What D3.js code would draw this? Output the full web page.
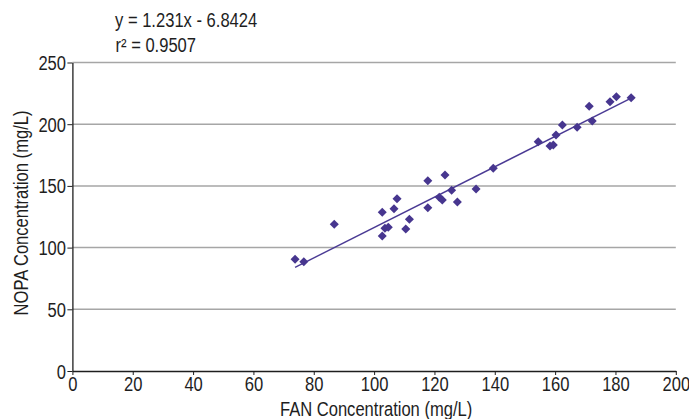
<!DOCTYPE html>
<html>
<head>
<meta charset="utf-8">
<script src="https://cdn.jsdelivr.net/npm/d3@7"></script>
<style>
  body { margin: 0; background: #fff; }
  text { font-family: "Liberation Sans", Arial, sans-serif; }
</style>
</head>
<body>
<div id="chart"></div>
<script>
// Data
const fan = [73.8, 76.7, 86.8, 102.7, 102.7, 103.6, 104.7, 106.6, 107.6, 110.5,
  111.7, 117.8, 117.8, 121.6, 122.6, 123.5, 125.7, 127.6, 133.8, 139.5,
  154.4, 158.3, 159.4, 160.3, 162.4, 167.3, 171.3, 172.3, 178.2, 180.3, 185.2];
const nopa = [90.5, 88.6, 118.9, 128.6, 109.4, 115.6, 116.5, 131.5, 139.6, 115.1,
  122.9, 154.2, 132.3, 140.8, 138.6, 158.8, 146.4, 137, 147.5, 164.3,
  185.8, 182.3, 183.1, 191.2, 199.4, 197.5, 214.5, 202.6, 218.2, 222.3, 221.5];
const xTicks = [0, 20, 40, 60, 80, 100, 120, 140, 160, 180, 200];
const yTicks = [0, 50, 100, 150, 200, 250];
const slope = 1.231;
const intercept = -6.8424;

const drawChart = () => {
  const margin = {top: 62.5, right: 13.2, bottom: 48, left: 72.4};
  const width = 689;
  const height = 419;
  const innerWidth = width - margin.left - margin.right;
  const innerHeight = height - margin.top - margin.bottom;
  const squeeze = "scale(0.85, 1)"; // original font is a condensed sans
  const fontSize = "19.5px";
  const ink = "#1e1e1e";

  const svg = d3.select("#chart")
    .append("svg")
      .attr("width", width)
      .attr("height", height);

  const innerChart = svg
    .append("g")
      .attr("transform", `translate(${margin.left}, ${margin.top})`);

  const xScale = d3.scaleLinear()
    .domain([0, 200])
    .range([0, innerWidth]);
  const yScale = d3.scaleLinear()
    .domain([0, 250])
    .range([innerHeight, 0]);

  // gridlines
  innerChart
    .selectAll(".grid")
      .data(yTicks.filter(d => d > 0))
      .join("line")
        .attr("class", "grid")
        .attr("x1", 0)
        .attr("x2", innerWidth)
        .attr("y1", d => yScale(d))
        .attr("y2", d => yScale(d))
        .attr("stroke", "#a6a6a6")
        .attr("stroke-width", 1.5);

  const bottomAxis = d3.axisBottom(xScale)
    .tickValues(xTicks)
    .tickSize(4)
    .tickSizeOuter(0);
  const xAxis = innerChart
    .append("g")
      .attr("transform", `translate(0, ${innerHeight})`)
      .call(bottomAxis);

  const leftAxis = d3.axisLeft(yScale)
    .tickValues(yTicks)
    .tickSize(5)
    .tickSizeOuter(0);
  const yAxis = innerChart
    .append("g")
      .call(leftAxis);

  [xAxis, yAxis].forEach(a => {
    a.select(".domain").attr("stroke", ink).attr("stroke-width", 1.3);
    a.selectAll(".tick line").attr("stroke", ink);
    a.selectAll(".tick text")
      .style("font-size", fontSize)
      .attr("fill", ink)
      .attr("transform", squeeze);
  });
  xAxis.selectAll(".tick text").attr("y", 6.5);
  yAxis.selectAll(".tick text").attr("x", -7.5).attr("dy", "0.36em");

  // trendline
  const xExt = d3.extent(fan);
  innerChart
    .append("line")
      .attr("x1", xScale(xExt[0]))
      .attr("y1", yScale(slope * xExt[0] + intercept))
      .attr("x2", xScale(xExt[1]))
      .attr("y2", yScale(slope * xExt[1] + intercept))
      .attr("stroke", "#4a3a94")
      .attr("stroke-width", 1.4);

  // markers
  const diamond = d3.symbol().type(d3.symbolDiamond2).size(52);
  innerChart
    .selectAll(".pt")
      .data(fan.map((d, i) => ({x: d, y: nopa[i]})))
      .join("path")
        .attr("class", "pt")
        .attr("d", diamond)
        .attr("transform", d => `translate(${xScale(d.x)}, ${yScale(d.y)})`)
        .attr("fill", "#47368f");

  // titles
  svg
    .append("text")
      .text("FAN Concentration (mg/L)")
      .attr("transform", `translate(${margin.left + innerWidth / 2 + 2}, 415.7) ${squeeze}`)
      .attr("text-anchor", "middle")
      .style("font-size", fontSize)
      .attr("fill", ink);

  svg
    .append("text")
      .text("NOPA Concentration (mg/L)")
      .attr("transform", `translate(28, 213) rotate(-90) ${squeeze}`)
      .attr("text-anchor", "middle")
      .style("font-size", fontSize)
      .attr("fill", ink);

  // regression label
  svg
    .append("text")
      .text(`y = ${slope}x - ${Math.abs(intercept)}`)
      .attr("transform", `translate(115, 27.3) ${squeeze}`)
      .style("font-size", fontSize)
      .attr("fill", ink);

  svg
    .append("text")
      .text("r² = 0.9507")
      .attr("transform", `translate(115.5, 52.3) ${squeeze}`)
      .style("font-size", fontSize)
      .attr("fill", ink);
};

drawChart();
</script>
</body>
</html>
